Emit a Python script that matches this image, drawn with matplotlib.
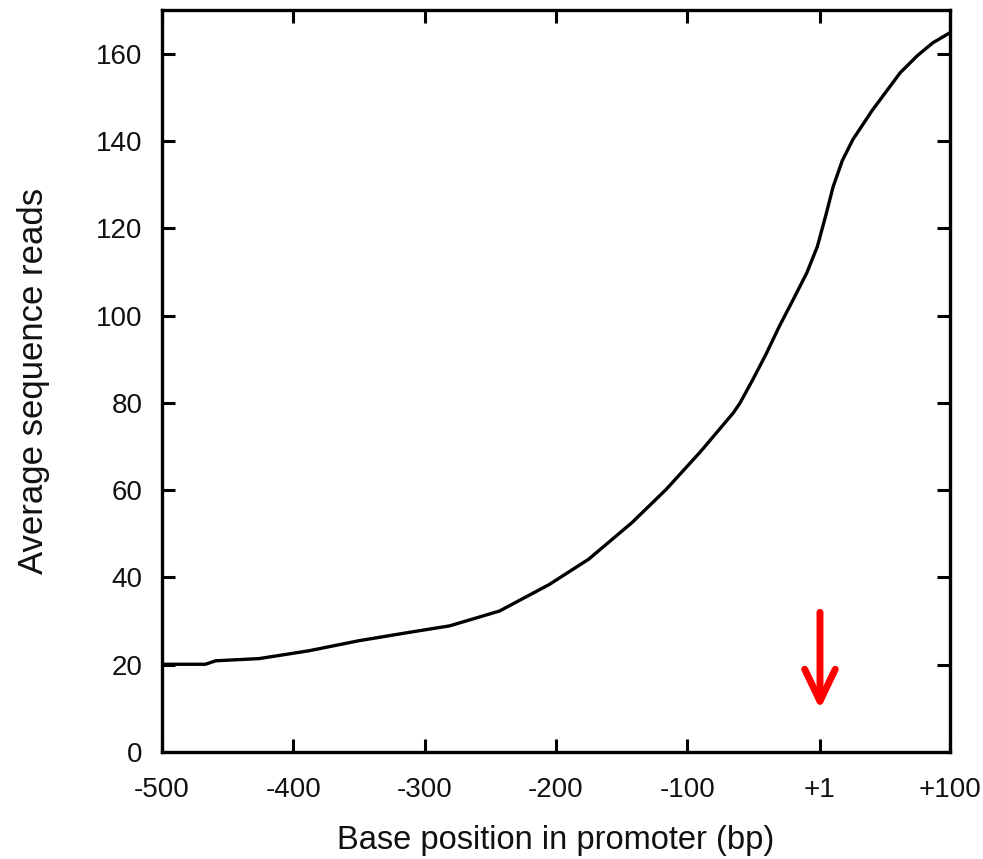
import matplotlib
matplotlib.use("Agg")
import matplotlib.pyplot as plt

# Data
pos = [-500, -467, -459, -426, -388, -350, -312, -281, -243, -205, -175,
       -142, -116, -90, -65, -60, -50, -40, -30, -20, -9, -1, 6, 11, 18, 26,
       41, 62, 75, 87, 100]
reads = [20.1, 20.1, 20.9, 21.4, 23.2, 25.5, 27.4, 28.9, 32.3, 38.4, 44.2,
         52.6, 60.2, 68.8, 77.7, 79.9, 85.4, 91.2, 97.5, 103.3, 109.8, 115.8,
         123.6, 129.5, 135.5, 140.3, 147.1, 155.6, 159.5, 162.5, 164.8]

xticks = [-500, -400, -300, -200, -100, 1, 100]
xticklabels = ["-500", "-400", "-300", "-200", "-100", "+1", "+100"]
yticks = [0, 20, 40, 60, 80, 100, 120, 140, 160]

arrow_x = 1
arrow_from = 32
arrow_to = 9.8

plt.rcParams['font.family'] = ['Liberation Sans', 'DejaVu Sans']

fig = plt.figure(figsize=(9.83, 8.59), dpi=100)
ax = fig.add_axes([162/983, 1-752/859, (950-162)/983, (752-10)/859])

ax.plot(pos, reads, color='black', lw=2.4, solid_joinstyle='round',
        solid_capstyle='round')
ax.set_xlim(-500, 100)
ax.set_ylim(0, 170)

ax.set_xticks(xticks)
ax.set_xticklabels(xticklabels)
ax.set_yticks(yticks)
ax.tick_params(direction='in', length=9.5, width=2.2, labelsize=20,
               top=True, right=True, pad=14, labelcolor='#111111')
ax.tick_params(axis='x', pad=18)
for s in ax.spines.values():
    s.set_linewidth(2.4)

ax.set_xlabel("Base position in promoter (bp)", fontsize=23.5, labelpad=16,
              color='#111111')
ax.set_ylabel("Average sequence reads", fontsize=25, labelpad=33,
              color='#111111')

ax.annotate('', xy=(arrow_x, arrow_to), xytext=(arrow_x, arrow_from),
            arrowprops=dict(arrowstyle='->,head_length=2.3,head_width=1.1',
                            color='#ff0000', lw=5, mutation_scale=10,
                            shrinkA=0, shrinkB=0))

fig.savefig("out.png", dpi=100)
